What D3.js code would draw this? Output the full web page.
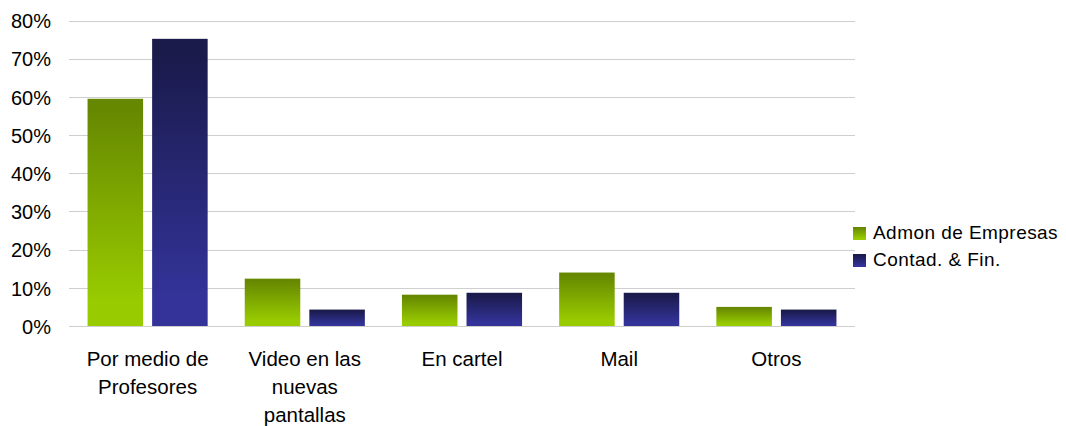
<!DOCTYPE html>
<html>
<head>
<meta charset="utf-8">
<script src="https://cdn.jsdelivr.net/npm/d3@7"></script>
<style>
  html, body { margin: 0; padding: 0; background: #fff; }
  svg { display: block; }
  text { font-family: "Liberation Sans", Arial, sans-serif; fill: #000; }
</style>
</head>
<body>
<svg id="chart" width="1066" height="426"></svg>
<script>
// Categories (x-axis labels, split into lines)
const categories = ["Por medio de Profesores", "Video en las nuevas pantallas", "En cartel", "Mail", "Otros"];
const categoryLines = [["Por medio de", "Profesores"], ["Video en las", "nuevas", "pantallas"], ["En cartel"], ["Mail"], ["Otros"]];

// Series
const seriesNames = ["Admon de Empresas", "Contad. & Fin."];
const admonValues = [0.595, 0.124, 0.082, 0.14, 0.05];
const contadValues = [0.752, 0.043, 0.087, 0.087, 0.043];

// Y ticks
const yTicks = [0, 0.1, 0.2, 0.3, 0.4, 0.5, 0.6, 0.7, 0.8];

const svg = d3.select("#chart");
const plot = { left: 69, right: 855, top: 20.5, bottom: 326 };

const x = d3.scaleBand().domain(categories)
  .range([plot.left, plot.right]).paddingInner(0.236).paddingOuter(0.118);
const xSub = d3.scaleBand().domain(seriesNames)
  .range([0, x.bandwidth()]).paddingInner(0.14);
const y = d3.scaleLinear().domain([0, 0.8]).range([plot.bottom, plot.top]);

// Vertical gradients for the bars
const defs = svg.append("defs");
const gradients = [
  { id: "gradGreen", top: "#668800", bottom: "#99cc00" },
  { id: "gradBlue", top: "#1a1a4b", bottom: "#333399" }
];
gradients.forEach(g => {
  const lg = defs.append("linearGradient").attr("id", g.id)
    .attr("x1", 0).attr("y1", 0).attr("x2", 0).attr("y2", 1);
  lg.append("stop").attr("offset", 0).attr("stop-color", g.top);
  lg.append("stop").attr("offset", 0.05).attr("stop-color", g.top);
  lg.append("stop").attr("offset", 0.9).attr("stop-color", g.bottom);
  lg.append("stop").attr("offset", 1).attr("stop-color", g.bottom);
});
const fillFor = { "Admon de Empresas": "url(#gradGreen)", "Contad. & Fin.": "url(#gradBlue)" };

// Gridlines
svg.append("g").selectAll("line").data(yTicks).join("line")
  .attr("x1", plot.left).attr("x2", plot.right)
  .attr("y1", d => Math.round(y(d)) + 0.5).attr("y2", d => Math.round(y(d)) + 0.5)
  .attr("stroke", "#cfcfcf").attr("stroke-width", 1.2);

// Y axis labels
const yAxis = d3.axisLeft(y).tickValues(yTicks).tickFormat(d3.format(".0%")).tickSize(0).tickPadding(0);
const yg = svg.append("g").attr("transform", `translate(51,0)`).call(yAxis);
yg.select(".domain").remove();
yg.selectAll("text").attr("font-size", 20).attr("font-family", '"Liberation Sans", Arial, sans-serif')
  .attr("fill", "#000").attr("dy", "0.36em");

// Bars
const rows = categories.map((c, i) => ({ cat: c, vals: [
  { key: seriesNames[0], value: admonValues[i] },
  { key: seriesNames[1], value: contadValues[i] }
]}));
svg.append("g").selectAll("g").data(rows).join("g")
  .attr("transform", d => `translate(${x(d.cat)},0)`)
  .selectAll("rect").data(d => d.vals).join("rect")
  .attr("x", d => xSub(d.key))
  .attr("width", xSub.bandwidth())
  .attr("y", d => y(d.value))
  .attr("height", d => y(0) - y(d.value))
  .attr("fill", d => fillFor[d.key]);

// Category labels
const lab = svg.append("g");
categories.forEach((c, i) => {
  const cx = x(c) + x.bandwidth() / 2;
  const t = lab.append("text")
    .attr("x", cx)
    .attr("y", 366)
    .attr("text-anchor", "middle")
    .attr("font-size", 20.5);
  categoryLines[i].forEach((ln, j) => {
    t.append("tspan").attr("x", cx).attr("y", 366 + j * 27.8).text(ln);
  });
});

// Legend
const leg = svg.append("g");
seriesNames.forEach((s, i) => {
  const yy = 227 + i * 27;
  leg.append("rect").attr("x", 853).attr("y", yy).attr("width", 13).attr("height", 13)
    .attr("fill", fillFor[s]);
  leg.append("text").attr("x", 873).attr("y", yy + 11.5).attr("font-size", 19)
    .attr("letter-spacing", 0.45).text(s);
});
</script>
</body>
</html>
